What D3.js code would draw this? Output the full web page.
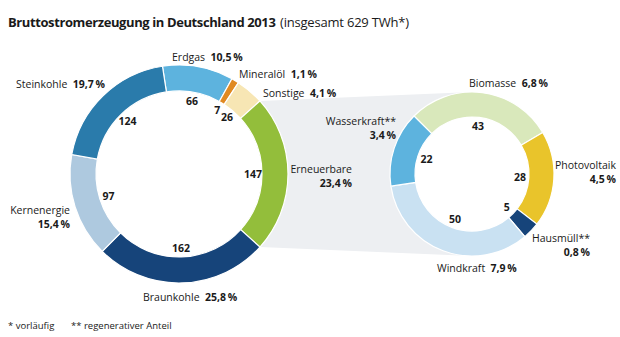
<!DOCTYPE html>
<html>
<head>
<meta charset="utf-8">
<script src="https://cdn.jsdelivr.net/npm/d3@7"></script>
<style>
  body { margin: 0; background: #fff; }
  svg { display: block; font-family: "Open Sans", sans-serif; }
  .val { font-weight: bold; font-size: 10.5px; fill: #1a1a1a; }
  .lbl { font-size: 10.5px; fill: #1a1a1a; }
  .lbl .pct { font-weight: bold; }
</style>
</head>
<body>
<svg id="chart" width="620" height="337"></svg>
<script>
// === DONNÉES ===
// Gesamt (TWh), im Uhrzeigersinn ab Erdgas
const mainNames = ["Erdgas", "Mineralöl", "Sonstige", "Erneuerbare", "Braunkohle", "Kernenergie", "Steinkohle"];
const mainValues = [66, 7, 26, 147, 162, 97, 124];
const mainShares = ["10,5", "1,1", "4,1", "23,4", "25,8", "15,4", "19,7"];
const mainColors = ["#5db3de", "#e08a22", "#f7e6b4", "#93be3b", "#16447a", "#aec9df", "#2a7bab"];

// Erneuerbare (TWh), im Uhrzeigersinn ab Biomasse
const renNames = ["Biomasse", "Photovoltaik", "Hausmüll**", "Windkraft", "Wasserkraft**"];
const renValues = [43, 28, 5, 50, 22];
const renShares = ["6,8", "4,5", "0,8", "7,9", "3,4"];
const renColors = ["#d9e8bb", "#e9c42b", "#16447a", "#c9e1f2", "#5db3de"];

// Position der Beschriftungen (Layout, keine Daten)
const labelLayout = {
    "Erdgas":        { x: 172, y: 61,  anchor: "start", split: false },
    "Mineralöl":     { x: 239, y: 78,  anchor: "start", split: false },
    "Sonstige":      { x: 263, y: 97,  anchor: "start", split: false },
    "Erneuerbare":   { x: 352, y: 173, anchor: "end",   split: true },
    "Braunkohle":    { x: 143, y: 301, anchor: "start", split: false },
    "Kernenergie":   { x: 70,  y: 214, anchor: "end",   split: true },
    "Steinkohle":    { x: 16,  y: 88,  anchor: "start", split: false },
    "Biomasse":      { x: 469, y: 87,  anchor: "start", split: false },
    "Photovoltaik":  { x: 616, y: 169, anchor: "end",   split: true },
    "Hausmüll**":    { x: 590, y: 242, anchor: "end",   split: true },
    "Windkraft":     { x: 437, y: 272, anchor: "start", split: false },
    "Wasserkraft**": { x: 396, y: 125, anchor: "end",   split: true }
};

const svg = d3.select("#chart");

// Geometrie
const left = { cx: 179, cy: 174, outer: 109, inner: 83, labelR: 74 };
const right = { cx: 472, cy: 174, outer: 82, inner: 57, labelR: 48 };

// Hauptring: "Erneuerbare" genau auf 3 Uhr ausrichten
const total = d3.sum(mainValues);
const iRen = mainNames.indexOf("Erneuerbare");
const beforeRen = d3.sum(mainValues.slice(0, iRen));
const renMid = (beforeRen + mainValues[iRen] / 2) / total * 2 * Math.PI;
const mainStart = Math.PI / 2 - renMid;

const mainPie = d3.pie().sort(null).value(d => d.value)
    .startAngle(mainStart).endAngle(mainStart + 2 * Math.PI);
const renPie = d3.pie().sort(null).value(d => d.value)
    .startAngle(-Math.PI / 4).endAngle(-Math.PI / 4 + 2 * Math.PI);

const mainData = mainPie(mainNames.map((n, i) => ({ name: n, value: mainValues[i], share: mainShares[i], color: mainColors[i] })));
const renData = renPie(renNames.map((n, i) => ({ name: n, value: renValues[i], share: renShares[i], color: renColors[i] })));

// Grauer Verbindungsbereich
const renArc = mainData[iRen];
const pt = (c, r, a) => [c.cx + r * Math.sin(a), c.cy - r * Math.cos(a)];
const poly = [
    pt(left, left.outer, renArc.startAngle),
    [right.cx, right.cy - right.outer],
    [right.cx, right.cy + right.outer],
    pt(left, left.outer, renArc.endAngle)
];
svg.append("path")
    .attr("d", "M" + poly.join("L") + "Z")
    .attr("fill", "#edeff2");

function donut(c, data) {
    const arc = d3.arc().innerRadius(c.inner).outerRadius(c.outer);
    const lab = d3.arc().innerRadius(c.labelR).outerRadius(c.labelR);
    const g = svg.append("g").attr("transform", `translate(${c.cx},${c.cy})`);

    // weißes Loch
    g.append("circle").attr("r", c.inner).attr("fill", "#fff");

    g.selectAll("path")
        .data(data)
        .enter().append("path")
        .attr("d", arc)
        .attr("fill", d => d.data.color)
        .attr("stroke", "#fff")
        .attr("stroke-width", 1.2);

    g.selectAll("text.val")
        .data(data)
        .enter().append("text")
        .attr("class", "val")
        .attr("transform", d => `translate(${lab.centroid(d)})`)
        .attr("dy", "0.35em")
        .style("text-anchor", "middle")
        .text(d => d.data.value);
}

donut(left, mainData);
donut(right, renData);

// Außenbeschriftungen
function outerLabel(d) {
    const p = labelLayout[d.data.name];
    const t = svg.append("text")
        .attr("class", "lbl")
        .attr("x", p.x)
        .attr("y", p.y)
        .style("text-anchor", p.anchor);
    if (p.split) {
        t.append("tspan").text(d.data.name);
        t.append("tspan").attr("class", "pct")
            .attr("x", p.x).attr("dy", 14)
            .text(d.data.share + "\u2009%");
    } else {
        t.append("tspan").text(d.data.name + "\u00a0 ");
        t.append("tspan").attr("class", "pct").text(d.data.share + "\u2009%");
    }
}
mainData.forEach(outerLabel);
renData.forEach(outerLabel);

// Titel (zwei Teile, etwas enger gesetzt)
svg.append("text")
    .attr("x", 8).attr("y", 27)
    .style("font-size", "13px").style("font-weight", "bold")
    .style("letter-spacing", "-0.4px")
    .style("fill", "#1a1a1a")
    .text("Bruttostromerzeugung in Deutschland 2013");
svg.append("text")
    .attr("x", 280).attr("y", 27)
    .style("font-size", "13px")
    .style("letter-spacing", "-0.2px")
    .style("fill", "#1a1a1a")
    .text("(insgesamt 629 TWh*)");

// Fußnoten
svg.append("text").attr("x", 8).attr("y", 329)
    .style("font-size", "9.5px").style("fill", "#1a1a1a")
    .text("* vorläufig");
svg.append("text").attr("x", 71).attr("y", 329)
    .style("font-size", "9.5px").style("fill", "#1a1a1a")
    .text("** regenerativer Anteil");
</script>
</body>
</html>
